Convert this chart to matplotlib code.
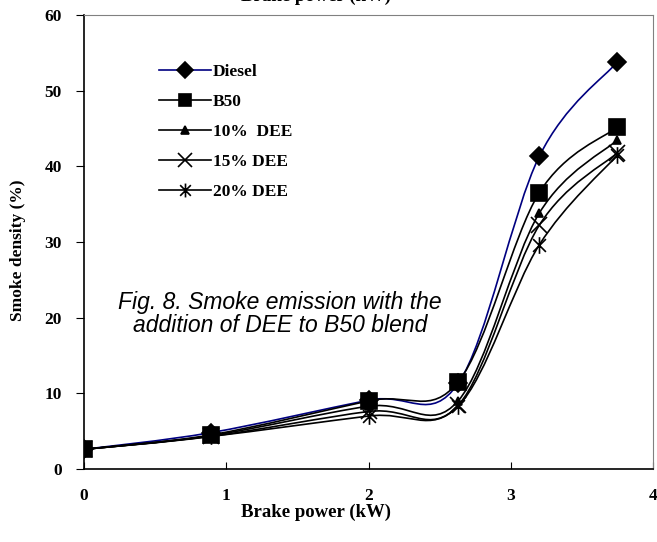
import numpy as np
import matplotlib
matplotlib.use('Agg')
import matplotlib.pyplot as plt
from matplotlib.path import Path
from matplotlib.patches import PathPatch
from matplotlib.lines import Line2D

# brake power (kW) and smoke density (%) for each fuel
power = [0.0, 0.89, 2.0, 2.63, 3.2, 3.75]
diesel = [2.6, 4.8, 9.1, 11.3, 41.3, 53.8]
b50 = [2.6, 4.5, 9.0, 11.5, 36.5, 45.2]
dee10 = [2.6, 4.4, 8.3, 9.0, 33.8, 43.5]
dee15 = [2.6, 4.3, 7.6, 8.4, 32.2, 41.8]
dee20 = [2.6, 4.3, 7.0, 8.3, 29.6, 41.5]

labels = ['Diesel', 'B50', '10%  DEE', '15% DEE', '20% DEE']
series = [diesel, b50, dee10, dee15, dee20]
line_colors = ['#000080', 'black', 'black', 'black', 'black']

# asterisk marker: X with a vertical stroke
star = Path([(-1, -1), (1, 1), (-1, 1), (1, -1), (0, -1.3), (0, 1.3)],
            [Path.MOVETO, Path.LINETO, Path.MOVETO, Path.LINETO, Path.MOVETO, Path.LINETO])
markers = ['D', 's', '^', 'x', star]
msizes = [9, 11, 6, 11, 12]
leg_sizes = [8, 9, 6, 10, 10]


def smooth_path(xs, ys):
    # bezier segments through the points, like a smoothed spreadsheet line
    pts = np.column_stack([xs, ys])
    n = len(pts)
    verts = [pts[0]]
    codes = [Path.MOVETO]
    for i in range(n - 1):
        p0 = pts[max(i - 1, 0)]
        p1 = pts[i]
        p2 = pts[i + 1]
        p3 = pts[min(i + 2, n - 1)]
        c1 = p1 + (p2 - p0) / 6.0
        c2 = p2 - (p3 - p1) / 6.0
        verts += [c1, c2, p2]
        codes += [Path.CURVE4] * 3
    return Path(verts, codes)


fig = plt.figure(figsize=(6.57, 5.42), dpi=100)
ax = fig.add_axes([84 / 657, 73 / 542, 569 / 657, 454 / 542])

handles = []
for vals, lab, col, m, ms, lms in zip(series, labels, line_colors, markers, msizes, leg_sizes):
    ax.add_patch(PathPatch(smooth_path(power, vals), facecolor='none',
                           edgecolor=col, lw=1.2, zorder=2))
    ax.plot(power, vals, ls='none', marker=m, ms=ms, color='black',
            mec='black', mew=1.2, zorder=3)
    handles.append(Line2D([], [], color=col, lw=1.2, marker=m, ms=lms,
                          mfc='black', mec='black', mew=1.2))

ax.set_xlim(0, 4)
ax.set_ylim(0, 60)
ax.set_xticks([0, 1, 2, 3, 4])
ax.set_yticks(range(0, 61, 10))
ax.tick_params(axis='x', direction='in', length=5, pad=14)
ax.tick_params(axis='y', direction='out', length=6, pad=10)
for t in ax.get_xticklabels() + ax.get_yticklabels():
    t.set_fontfamily('Liberation Serif')
    t.set_fontweight('bold')
    t.set_fontsize(12.5)

for s in ['top', 'right']:
    ax.spines[s].set_color('#808080')
for s in ['left', 'bottom']:
    ax.spines[s].set_color('black')
    ax.spines[s].set_linewidth(1.2)

fig.text(316 / 657, 1 - 512 / 542, 'Brake power (kW)', ha='center', va='center',
         fontfamily='Liberation Serif', fontweight='bold', fontsize=13.5)
fig.text(316 / 657, 1 + 4 / 542, 'Brake power (kW)', ha='center', va='center',
         fontfamily='Liberation Serif', fontweight='bold', fontsize=13.5)
fig.text(18 / 657, 1 - 250 / 542, 'Smoke density (%)', ha='center', va='center',
         rotation=90, fontfamily='Liberation Serif', fontweight='bold', fontsize=12.5)

ax.text((280 - 84) / 569, 1 - (314 - 15) / 454,
        'Fig. 8. Smoke emission with the\naddition of DEE to B50 blend',
        transform=ax.transAxes, ha='center', va='center', fontstyle='italic',
        fontfamily='Liberation Sans', fontsize=16.5, linespacing=1.05)

leg = ax.legend(handles, labels, loc='upper left', bbox_to_anchor=(0.12, 0.907),
                frameon=False, handlelength=3.0, labelspacing=0.8,
                handletextpad=0.1, borderaxespad=0,
                prop={'family': 'Liberation Serif', 'weight': 'bold', 'size': 12.5})

fig.savefig('out.png', dpi=100)
